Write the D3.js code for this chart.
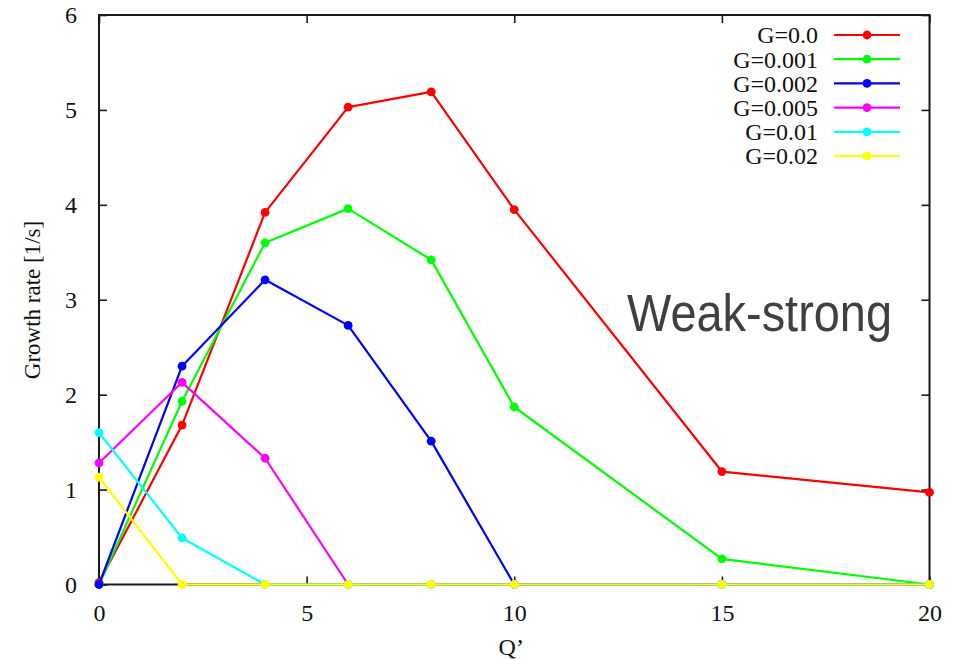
<!DOCTYPE html>
<html>
<head>
<meta charset="utf-8">
<script src="https://cdn.jsdelivr.net/npm/d3@7"></script>
<style>
  html, body { margin: 0; padding: 0; background: #fff; }
  svg { display: block; }
</style>
</head>
<body>
<svg id="chart" width="964" height="659"></svg>
<script>
// Q' sample positions
const qValues = [0, 2, 4, 6, 8, 10, 15, 20];

// Growth rate [1/s] for each damping setting G
const seriesNames = ["G=0.0", "G=0.001", "G=0.002", "G=0.005", "G=0.01", "G=0.02"];
const rateG0    = [0.02, 1.68, 3.92, 5.03, 5.19, 3.95, 1.19, 0.97];
const rateG001  = [0.00, 1.93, 3.60, 3.96, 3.42, 1.87, 0.27, 0.00];
const rateG002  = [0.00, 2.30, 3.21, 2.73, 1.51, 0.00, 0.00, 0.00];
const rateG005  = [1.28, 2.13, 1.33, 0.00, 0.00, 0.00, 0.00, 0.00];
const rateG01   = [1.60, 0.49, 0.00, 0.00, 0.00, 0.00, 0.00, 0.00];
const rateG02   = [1.13, 0.00, 0.00, 0.00, 0.00, 0.00, 0.00, 0.00];
const seriesColors = ["#ff0000", "#00ff00", "#0000ff", "#ff00ff", "#00ffff", "#ffff00"];

const xTicks = [0, 5, 10, 15, 20];
const yTicks = [0, 1, 2, 3, 4, 5, 6];

const allRates = [rateG0, rateG001, rateG002, rateG005, rateG01, rateG02];
const series = seriesNames.map((name, i) => ({
  name,
  color: seriesColors[i],
  points: qValues.map((q, j) => ({ q, v: allRates[i][j] }))
}));

const svg = d3.select("#chart");
const plotLeft = 99, plotRight = 929.5, plotTop = 15, plotBottom = 584.5;

const x = d3.scaleLinear().domain([0, 20]).range([plotLeft, plotRight]);
const y = d3.scaleLinear().domain([0, 6]).range([plotBottom, plotTop]);

const serif = "'Liberation Serif', 'Times New Roman', serif";
const axisColor = "#1a1a1a";
const tickLen = 8;
const labelSize = "24px";

// Frame
svg.append("rect")
  .attr("x", plotLeft).attr("y", plotTop)
  .attr("width", plotRight - plotLeft).attr("height", plotBottom - plotTop)
  .attr("fill", "none").attr("stroke", axisColor).attr("stroke-width", 2);

// Axes with inward ticks, mirrored on top and right
const intFmt = d3.format("d");
const axisBottom = d3.axisBottom(x).tickValues(xTicks).tickFormat(intFmt).tickSizeInner(-tickLen).tickSizeOuter(0).tickPadding(19);
const axisTop = d3.axisTop(x).tickValues(xTicks).tickSizeInner(-tickLen).tickSizeOuter(0).tickFormat("");
const axisLeft = d3.axisLeft(y).tickValues(yTicks).tickFormat(intFmt).tickSizeInner(-tickLen).tickSizeOuter(0).tickPadding(22);
const axisRight = d3.axisRight(y).tickValues(yTicks).tickSizeInner(-tickLen).tickSizeOuter(0).tickFormat("");

function styleAxis(g) {
  g.select(".domain").remove();
  g.selectAll(".tick line").attr("stroke", axisColor).attr("stroke-width", 1.6);
  g.selectAll(".tick text").attr("fill", "#111").style("font-family", serif).style("font-size", labelSize);
}

svg.append("g").attr("transform", `translate(0,${plotBottom})`).call(axisBottom).call(styleAxis);
svg.append("g").attr("transform", `translate(0,${plotTop})`).call(axisTop).call(styleAxis);
svg.append("g").attr("transform", `translate(${plotLeft},0)`).call(axisLeft).call(styleAxis);
svg.append("g").attr("transform", `translate(${plotRight},0)`).call(axisRight).call(styleAxis);

// Axis titles
svg.append("text")
  .attr("x", x(10) - 3).attr("y", 655)
  .attr("text-anchor", "middle")
  .style("font-family", serif).style("font-size", labelSize).attr("fill", "#111")
  .text("Q’");

svg.append("text")
  .attr("transform", `translate(40,300) rotate(-90)`)
  .attr("text-anchor", "middle")
  .style("font-family", serif).style("font-size", "23px").attr("fill", "#111")
  .text("Growth rate [1/s]");

// Series lines and markers
const line = d3.line().x(d => x(d.q)).y(d => y(d.v));
const plot = svg.append("g");
series.forEach(s => {
  const g = plot.append("g");
  g.append("path")
    .datum(s.points)
    .attr("d", line)
    .attr("fill", "none")
    .attr("stroke", s.color)
    .attr("stroke-width", 2.2)
    .attr("stroke-linejoin", "round");
  g.selectAll("circle")
    .data(s.points)
    .join("circle")
    .attr("cx", d => x(d.q))
    .attr("cy", d => y(d.v))
    .attr("r", 4.4)
    .attr("fill", s.color);
});

// Legend
const legendTextX = 818, legendLineX1 = 834, legendLineX2 = 900, legendY0 = 35, legendStep = 24.2;
const legend = svg.append("g");
series.forEach((s, i) => {
  const ly = legendY0 + i * legendStep;
  legend.append("text")
    .attr("x", legendTextX).attr("y", ly)
    .attr("dy", "0.35em")
    .attr("text-anchor", "end")
    .style("font-family", serif).style("font-size", labelSize).attr("fill", "#111")
    .text(s.name);
  legend.append("line")
    .attr("x1", legendLineX1).attr("x2", legendLineX2)
    .attr("y1", ly).attr("y2", ly)
    .attr("stroke", s.color).attr("stroke-width", 2.2);
  legend.append("circle")
    .attr("cx", (legendLineX1 + legendLineX2) / 2).attr("cy", ly)
    .attr("r", 4.4).attr("fill", s.color);
});

// Regime annotation
svg.append("text")
  .attr("x", 627).attr("y", 330.5)
  .attr("textLength", 265).attr("lengthAdjust", "spacingAndGlyphs")
  .style("font-family", "'Liberation Sans', Arial, sans-serif")
  .style("font-size", "51px")
  .attr("fill", "#404040")
  .text("Weak-strong");
</script>
</body>
</html>
